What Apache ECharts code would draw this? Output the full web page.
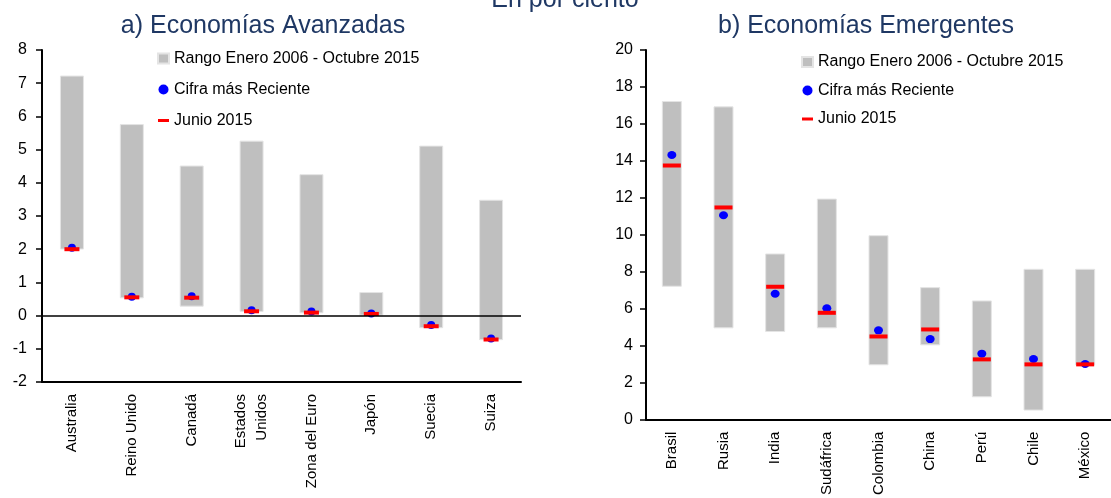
<!DOCTYPE html>
<html>
<head>
<meta charset="utf-8">
<script src="https://cdn.jsdelivr.net/npm/echarts@6/dist/echarts.min.js"></script>
<style>
    html, body {margin: 0; padding: 0; background: #fff;}
    #chart {width: 1111px; height: 498px;}
</style>
</head>
<body>
<div id="chart"></div>
<script>
// a) Economias Avanzadas
var catsA = ['Australia', 'Reino Unido', 'Canadá', 'Estados\nUnidos', 'Zona del Euro', 'Japón', 'Suecia', 'Suiza'];
var lowA = [1.99, 0.52, 0.27, 0.11, 0.07, 0.0, -0.38, -0.74];
var highA = [7.23, 5.77, 4.52, 5.27, 4.26, 0.71, 5.12, 3.49];
var latestA = [2.04, 0.57, 0.58, 0.16, 0.12, 0.06, -0.28, -0.69];
var juneA = [2.0, 0.55, 0.54, 0.13, 0.09, 0.05, -0.32, -0.72];

// b) Economias Emergentes
var catsB = ['Brasil', 'Rusia', 'India', 'Sudáfrica', 'Colombia', 'China', 'Perú', 'Chile', 'México'];
var lowB = [7.19, 4.94, 4.74, 4.94, 2.94, 4.02, 1.21, 0.49, 2.94];
var highB = [17.24, 16.95, 8.99, 11.96, 9.98, 7.17, 6.45, 8.16, 8.16];
var latestB = [14.32, 11.06, 6.81, 6.02, 4.83, 4.36, 3.57, 3.28, 3.01];
var juneB = [13.75, 11.48, 7.19, 5.78, 4.5, 4.88, 3.26, 2.99, 2.99];

var names = ['Rango Enero 2006 - Octubre 2015', 'Cifra más Reciente', 'Junio 2015'];

var FONT = '"Liberation Sans", Arial, sans-serif';
var GRAY = '#BFBFBF';
var BLUE = '#0000FF';
var RED = '#FF0000';

function span(lo, hi) {
    var out = [];
    for (var i = 0; i < lo.length; i++) {
        out.push(+(hi[i] - lo[i]).toFixed(2));
    }
    return out;
}

function xAxisFor(idx, cats) {
    return {
        type: 'category',
        gridIndex: idx,
        data: cats,
        position: 'bottom',
        axisLine: {onZero: false, lineStyle: {color: '#000', width: 2}},
        axisTick: {length: 5, lineStyle: {color: '#000', width: 1.5}},
        axisLabel: {
            rotate: 90,
            margin: 12,
            color: '#000',
            fontFamily: FONT,
            fontSize: 15,
            lineHeight: 21,
            interval: 0
        }
    };
}

function yAxisFor(idx, min, max, step, margin) {
    return {
        type: 'value',
        gridIndex: idx,
        min: min,
        max: max,
        interval: step,
        axisLine: {show: true, lineStyle: {color: '#000', width: 2}},
        axisTick: {show: true, length: 6, lineStyle: {color: '#000', width: 1.5}},
        splitLine: {show: false},
        axisLabel: {margin: margin, color: '#000', fontFamily: FONT, fontSize: 16}
    };
}

function seriesFor(idx, lo, hi, latest, june, barW, redW, dot) {
    var list = [
        {   // transparent base of the range bar
            name: 'base' + idx,
            type: 'bar',
            xAxisIndex: idx, yAxisIndex: idx,
            stack: 'r' + idx,
            stackStrategy: 'all',
            barWidth: barW,
            itemStyle: {color: 'rgba(0,0,0,0)'},
            silent: true,
            data: lo
        },
        {
            name: names[0],
            type: 'bar',
            xAxisIndex: idx, yAxisIndex: idx,
            stack: 'r' + idx,
            stackStrategy: 'all',
            barWidth: barW,
            itemStyle: {color: GRAY, borderColor: '#E4E4E4', borderWidth: 1},
            data: span(lo, hi)
        },
        {
            name: names[1],
            type: 'scatter',
            xAxisIndex: idx, yAxisIndex: idx,
            symbol: 'circle',
            symbolSize: dot,
            itemStyle: {color: BLUE, opacity: 1},
            data: latest
        },
        {
            name: names[2],
            type: 'scatter',
            xAxisIndex: idx, yAxisIndex: idx,
            symbol: 'rect',
            symbolSize: [redW, 4],
            itemStyle: {color: RED, opacity: 1},
            data: june
        }
    ];
    if (idx === 0) {
        list[0].markLine = {
            silent: true,
            symbol: 'none',
            label: {show: false},
            lineStyle: {color: '#000', width: 1.5, type: 'solid'},
            data: [{yAxis: 0}]
        };
    }
    return list;
}

function legendFor(left, top, gap) {
    return {
        left: left,
        top: top,
        orient: 'vertical',
        padding: 0,
        itemGap: gap,
        itemWidth: 11,
        itemHeight: 10,
        selectedMode: false,
        textStyle: {color: '#000', fontFamily: FONT, fontSize: 16},
        data: [
            {name: names[0], icon: 'rect'},
            {name: names[1], icon: 'circle'},
            {name: names[2], icon: 'path://M0,0H11V3H0Z'}
        ]
    };
}

function label(text, x, y) {
    return {
        type: 'text',
        x: x,
        y: y,
        style: {
            text: text,
            fill: '#1F3864',
            font: '25px ' + FONT,
            align: 'center',
            verticalAlign: 'middle',
            textAlign: 'center',
            textVerticalAlign: 'middle'
        }
    };
}

var option = {
    animation: false,
    backgroundColor: '#fff',
    graphic: [
        label('En por ciento', 565, 0),
        label('a) Economías Avanzadas', 263, 26),
        label('b) Economías Emergentes', 866, 26)
    ],
    legend: [legendFor(157, 50.5, 15), legendFor(801, 54, 12.5)],
    grid: [
        {left: 42, top: 50, width: 479, height: 332, containLabel: false},
        {left: 646, top: 50, width: 476, height: 370, containLabel: false}
    ],
    xAxis: [xAxisFor(0, catsA), xAxisFor(1, catsB)],
    yAxis: [yAxisFor(0, -2, 8, 1, 15), yAxisFor(1, 0, 20, 2, 13)],
    series: seriesFor(0, lowA, highA, latestA, juneA, 24, 15, [8, 8])
        .concat(seriesFor(1, lowB, highB, latestB, juneB, 20, 18, [9, 8]))
};

var chart = echarts.init(document.getElementById('chart'), null, {renderer: 'canvas'});
chart.setOption(option);
</script>
</body>
</html>
